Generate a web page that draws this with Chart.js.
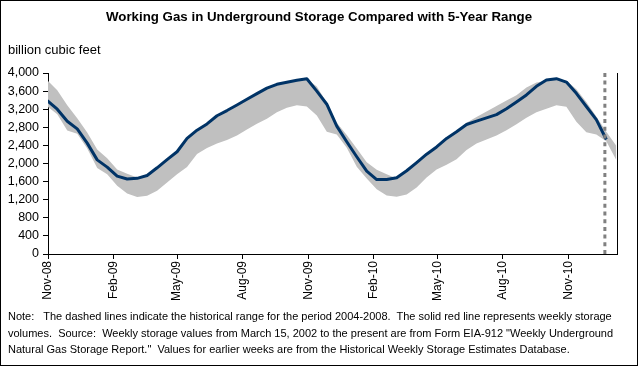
<!DOCTYPE html>
<html><head><meta charset="utf-8">
<script src="https://cdn.jsdelivr.net/npm/chart.js@4/dist/chart.umd.min.js"></script>
<style>
html,body{margin:0;padding:0;background:#fff;}
#wrap{position:relative;width:638px;height:366px;overflow:hidden;font-family:Arial,"Liberation Sans",sans-serif;color:#000;}
#frame{position:absolute;left:0;top:0;width:638px;height:366px;box-sizing:border-box;border:1px solid #000;pointer-events:none;}
canvas{position:absolute;left:0;top:0;}
.t{position:absolute;white-space:pre;}
</style></head><body>
<div id="wrap">
<canvas id="c" width="638" height="366"></canvas>
<div class="t" style="left:0;width:638px;text-align:center;top:9px;font-size:13.3px;font-weight:bold;line-height:16px;">Working Gas in Underground Storage Compared with 5-Year Range</div>
<div class="t" style="left:8px;top:43px;font-size:13px;line-height:14px;">billion cubic feet</div>
<div class="t" style="left:8px;top:308px;font-size:11px;line-height:16.5px;">Note:   The dashed lines indicate the historical range for the period 2004-2008.  The solid red line represents weekly storage
volumes.  Source:  Weekly storage values from March 15, 2002 to the present are from Form EIA-912 "Weekly Underground
Natural Gas Storage Report."  Values for earlier weeks are from the Historical Weekly Storage Estimates Database.</div>
<div id="frame"></div>
</div>
<script>
// ---- data ----
const weekDates = [
 '2008-10-31','2008-11-14','2008-11-28','2008-12-12','2008-12-26','2009-01-09','2009-01-23','2009-02-06','2009-02-20','2009-03-06',
 '2009-03-20','2009-04-03','2009-04-17','2009-05-01','2009-05-15','2009-05-29','2009-06-12','2009-06-26','2009-07-10','2009-07-24',
 '2009-08-07','2009-08-21','2009-09-04','2009-09-18','2009-10-02','2009-10-16','2009-10-30','2009-11-13','2009-11-27','2009-12-11',
 '2009-12-25','2010-01-08','2010-01-22','2010-02-05','2010-02-19','2010-03-05','2010-03-19','2010-04-02','2010-04-16','2010-04-30',
 '2010-05-14','2010-05-28','2010-06-11','2010-06-25','2010-07-09','2010-07-23','2010-08-06','2010-08-20','2010-09-03','2010-09-17',
 '2010-10-01','2010-10-15','2010-10-29','2010-11-12','2010-11-26','2010-12-10','2010-12-24','2011-01-07'
];
const storage = [
 3390,3200,2935,2765,2450,2080,1920,1720,1657,1672,
 1735,1905,2085,2260,2555,2736,2875,3055,3170,3292,
 3420,3545,3665,3750,3797,3840,3872,3600,3310,2826,
 2480,2150,1830,1645,1646,1684,1840,2020,2205,2365,
 2555,2700,2861,2935,3008,3080,3210,3360,3515,3705,
 3845,3875,3800,3550,3260,2970,2530
];
const rangeMax = [
 3840,3620,3290,3000,2685,2310,2115,1870,1775,1690,
 1720,1890,2070,2245,2540,2720,2860,3040,3155,3277,
 3405,3530,3650,3735,3782,3825,3860,3700,3340,2900,
 2630,2330,2030,1860,1760,1669,1825,2005,2190,2350,
 2540,2685,2900,3030,3150,3270,3390,3510,3680,3790,
 3830,3860,3830,3640,3360,3040,2700,2390
];
const rangeMin = [
 3260,3090,2730,2655,2330,1900,1760,1510,1335,1262,
 1290,1400,1580,1765,1920,2210,2340,2440,2520,2620,
 2750,2880,2990,3130,3230,3290,3260,3060,2700,2640,
 2350,1930,1670,1430,1295,1265,1315,1470,1690,1865,
 1975,2095,2300,2440,2530,2620,2735,2870,3010,3130,
 3210,3290,3255,2920,2690,2640,2490,2080
];
const currentDate = '2010-12-22';
const tickDates  = ['2008-11-01','2009-02-01','2009-05-01','2009-08-01','2009-11-01','2010-02-01','2010-05-01','2010-08-01','2010-11-01'];
const tickLabels = ['Nov-08','Feb-09','May-09','Aug-09','Nov-09','Feb-10','May-10','Aug-10','Nov-10'];
const axisStart = '2008-11-01', axisEnd = '2011-01-08';
const yTicks = [0,400,800,1200,1600,2000,2400,2800,3200,3600,4000];

// ---- helpers ----
function dayOf(s){const p=s.split('-').map(Number);return (Date.UTC(p[0],p[1]-1,p[2])-Date.UTC(2008,10,1))/86400000;}
const pts = arr => arr.map((v,i)=>({x:dayOf(weekDates[i]), y:v}));
const labelMap = {}; tickDates.forEach((d,i)=>labelMap[dayOf(d)] = tickLabels[i]);

const rightBorder = {
  id:'rightBorder',
  afterDraw(chart){
    const {ctx, chartArea:a} = chart;
    ctx.save(); ctx.strokeStyle='#000'; ctx.lineWidth=1;
    const x = Math.round(a.right)+0.5;
    ctx.beginPath(); ctx.moveTo(x, a.top); ctx.lineTo(x, a.bottom); ctx.stroke(); ctx.restore();
  }
};

const font = {family:'Arial, "Liberation Sans", sans-serif', size:12};
const yFont = {family:'Arial, "Liberation Sans", sans-serif', size:12.5};
new Chart(document.getElementById('c'), {
  type:'line',
  data:{datasets:[
    {data:[{x:dayOf(currentDate),y:yTicks[0]},{x:dayOf(currentDate),y:yTicks[yTicks.length-1]}],
     borderColor:'#808080', borderWidth:3, borderDash:[4,3.7], pointRadius:0, fill:false},
    {data:pts(storage), borderColor:'#003366', borderWidth:3, pointRadius:0, tension:0, fill:false,
     borderJoinStyle:'round', clip:0},
    {data:pts(rangeMax), borderColor:'rgba(0,0,0,0)', borderWidth:0, pointRadius:0, tension:0,
     backgroundColor:'#C0C0C0', fill:'+1', clip:0},
    {data:pts(rangeMin), borderColor:'rgba(0,0,0,0)', borderWidth:0, pointRadius:0, tension:0, fill:false, clip:0}
  ]},
  options:{
    responsive:false, devicePixelRatio:1, animation:false,
    layout:{padding:{left:0,right:21,top:73,bottom:0}},
    plugins:{legend:{display:false}, tooltip:{enabled:false}},
    scales:{
      x:{type:'linear', min:dayOf(axisStart), max:dayOf(axisEnd),
         afterBuildTicks:s=>{s.ticks = tickDates.map(d=>({value:dayOf(d)}));},
         afterFit:s=>{s.height=112;},
         ticks:{autoSkip:false, maxRotation:90, minRotation:90, color:'#000', font, padding:2,
                callback:v=>labelMap[v]||''},
         grid:{drawOnChartArea:false, drawTicks:true, tickLength:5, color:'#000'},
         border:{color:'#000', width:1}},
      y:{min:yTicks[0], max:yTicks[yTicks.length-1],
         afterBuildTicks:s=>{s.ticks = yTicks.map(v=>({value:v}));},
         afterFit:s=>{s.width=48;},
         ticks:{color:'#000', font:yFont, padding:4, callback:v=>v.toLocaleString('en-US')},
         grid:{drawOnChartArea:false, drawTicks:true, tickLength:5, color:'#000'},
         border:{color:'#000', width:1}}
    }
  },
  plugins:[rightBorder]
});
</script>
</body></html>
